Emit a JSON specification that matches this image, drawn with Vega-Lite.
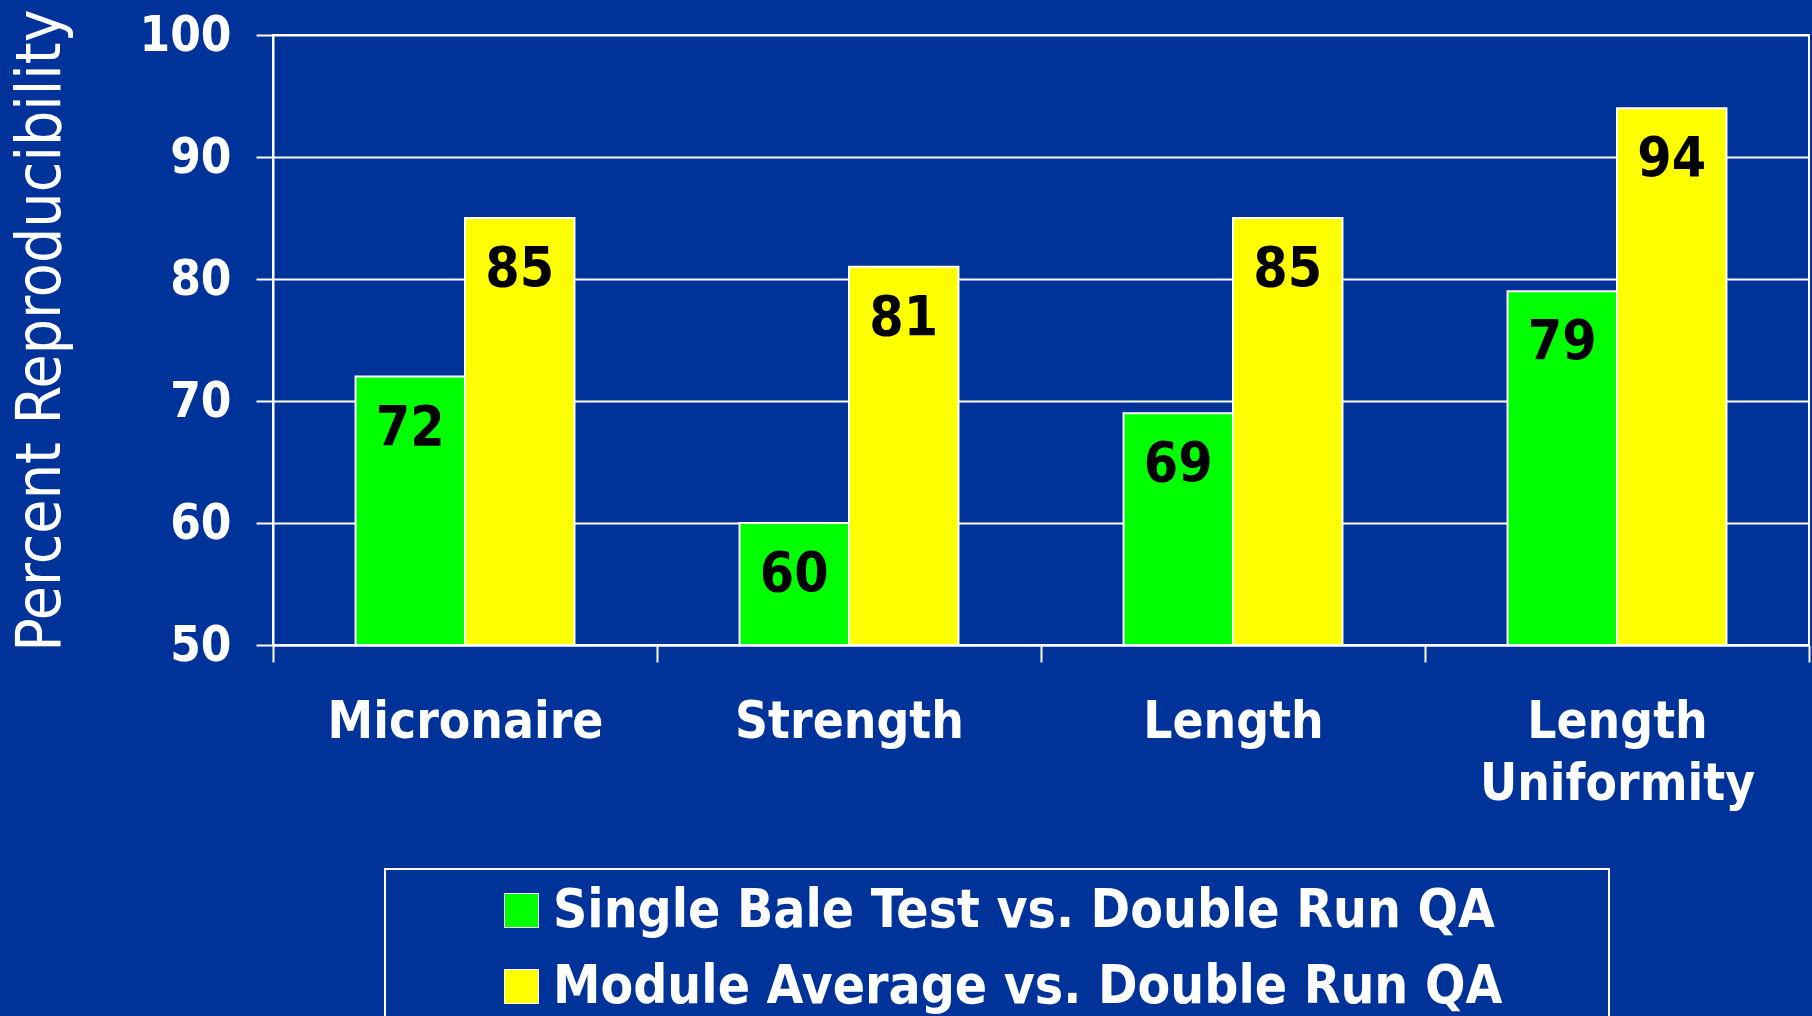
{
  "$schema": "https://vega.github.io/schema/vega-lite/v6.json",
  "width": 1536,
  "height": 610,
  "autosize": {"type": "none"},
  "padding": {"left": 273, "top": 35, "right": 3, "bottom": 371},
  "background": "#003399",
  "config": {
    "font": "DejaVu Sans Condensed",
    "view": {"stroke": "white", "strokeWidth": 2},
    "legend": {"strokeWidth": 2}
  },
  "data": {
    "values": [
      {"attribute": "Micronaire", "series": "Single Bale Test vs. Double Run QA", "value": 72},
      {"attribute": "Micronaire", "series": "Module Average vs. Double Run QA", "value": 85},
      {"attribute": "Strength", "series": "Single Bale Test vs. Double Run QA", "value": 60},
      {"attribute": "Strength", "series": "Module Average vs. Double Run QA", "value": 81},
      {"attribute": "Length", "series": "Single Bale Test vs. Double Run QA", "value": 69},
      {"attribute": "Length", "series": "Module Average vs. Double Run QA", "value": 85},
      {"attribute": "Length Uniformity", "series": "Single Bale Test vs. Double Run QA", "value": 79},
      {"attribute": "Length Uniformity", "series": "Module Average vs. Double Run QA", "value": 94}
    ]
  },
  "encoding": {
    "x": {
      "field": "attribute",
      "type": "nominal",
      "sort": null,
      "scale": {"paddingInner": 0, "paddingOuter": 0},
      "axis": {
        "title": null,
        "labelAngle": 0,
        "labelFontSize": 51,
        "labelFontWeight": "bold",
        "labelColor": "white",
        "labelLimit": 1000,
        "labelPadding": 35,
        "labelLineHeight": 62,
        "labelExpr": "datum.label == 'Length Uniformity' ? ['Length', 'Uniformity'] : datum.label",
        "tickBand": "extent",
        "tickColor": "white",
        "tickSize": 17,
        "tickWidth": 2,
        "domainColor": "white",
        "domainWidth": 2
      }
    },
    "xOffset": {
      "field": "series",
      "type": "nominal",
      "sort": null,
      "scale": {"paddingInner": 0, "paddingOuter": 0.754}
    },
    "y": {
      "field": "value",
      "type": "quantitative",
      "scale": {"domain": [50, 100]},
      "axis": {
        "values": [50, 60, 70, 80, 90, 100],
        "labelFontSize": 49,
        "labelFontWeight": "bold",
        "labelColor": "white",
        "labelPadding": 25,
        "tickColor": "white",
        "tickSize": 17,
        "tickWidth": 2,
        "domainColor": "white",
        "domainWidth": 2,
        "gridColor": "white",
        "gridWidth": 2,
        "gridOpacity": 1,
        "title": "Percent Reproducibility",
        "titleFontSize": 62,
        "titleFontWeight": "normal",
        "titleColor": "white",
        "titleAngle": -90,
        "titleX": -214,
        "titleY": 295,
        "titleAlign": "center",
        "titleBaseline": "alphabetic"
      }
    }
  },
  "layer": [
    {
      "mark": {"type": "bar", "stroke": "white", "strokeWidth": 2},
      "encoding": {
        "y2": {"datum": 50},
        "color": {
          "field": "series",
          "type": "nominal",
          "sort": null,
          "scale": {"range": ["#00FF00", "#FFFF00"]},
          "legend": {
            "title": null,
            "orient": "none",
            "legendX": 112,
            "legendY": 834,
            "direction": "vertical",
            "strokeColor": "white",
            "padding": 15,
            "labelFontSize": 53,
            "labelFontWeight": "bold",
            "labelColor": "white",
            "labelLimit": 2000,
            "labelOffset": 5,
            "labelExpr": "datum.label + '\u2800\u00a0\u2800'",
            "symbolType": "square",
            "symbolSize": 1156,
            "symbolStrokeColor": "white",
            "symbolStrokeWidth": 1,
            "symbolOpacity": 1,
            "symbolOffset": 95,
            "rowPadding": 22
          }
        }
      }
    },
    {
      "mark": {"type": "text", "baseline": "top", "dy": 25, "fontSize": 55, "fontWeight": "bold", "fill": "black"},
      "encoding": {
        "text": {"field": "value", "type": "quantitative"}
      }
    }
  ]
}
